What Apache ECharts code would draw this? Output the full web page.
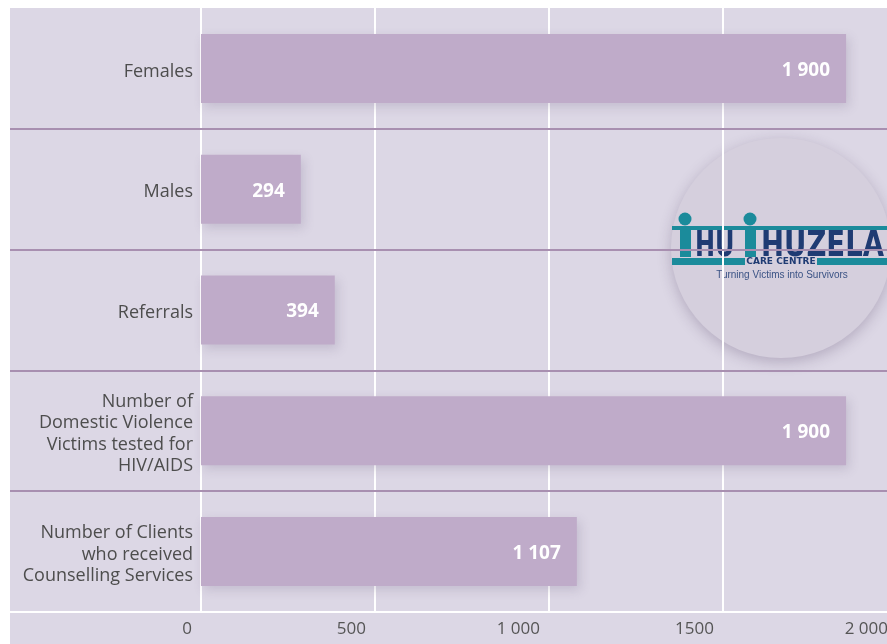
<!DOCTYPE html>
<html>
<head>
<meta charset="utf-8">
<script src="https://cdn.jsdelivr.net/npm/echarts@6/dist/echarts.min.js"></script>
<style>
  html, body { margin: 0; padding: 0; background: #fff; overflow: hidden; }
  /* a bit wider than the window: the 2 000 gridline sits just past the right edge */
  #chart { width: 897px; height: 644px; }
</style>
</head>
<body>
<div id="chart"></div>
<script>
// categories, top to bottom
const categories = [
  'Females',
  'Males',
  'Referrals',
  'Number of\nDomestic Violence\nVictims tested for\nHIV/AIDS',
  'Number of Clients\nwho received\nCounselling Services'
]
const values = [1900, 294, 394, 1900, 1107]
const tickValues = [0, 500, 1000, 1500, 2000]
const tickLabels = ['0', '500', '1 000', '1500', '2 000']

const chart = echarts.init(document.getElementById('chart'))

// thousands with a space, like the source
function fmt(v) {
  return String(v).replace(/\B(?=(\d{3})+(?!\d))/g, ' ')
}

const textFont = "'Open Sans', 'Noto Sans', sans-serif"
const logoFont = "bold 36px 'DejaVu Sans Condensed', 'DejaVu Sans', sans-serif"
const navy = '#1f3b73'
const teal = '#1b8b9b'

const option = {
  backgroundColor: '#dcd7e5',
  animation: false,
  grid: [
    // full-width grid, only used for the row separators and bottom line
    { left: 10, right: 10, top: 8, bottom: 32 },
    // plotting grid
    { left: 201, right: 0, top: 8, bottom: 32 },
    // category labels sit a little low in the source
    { left: 201, right: 0, top: 11, bottom: 29 }
  ],
  xAxis: [
    {
      gridIndex: 0,
      type: 'value',
      min: 0,
      max: 1,
      axisLine: { show: true, lineStyle: { color: '#ffffff', width: 2 } },
      axisTick: { show: false },
      axisLabel: { show: false },
      splitLine: { show: false }
    },
    {
      gridIndex: 1,
      type: 'value',
      min: tickValues[0],
      max: tickValues[tickValues.length - 1],
      interval: 500,
      axisLine: { show: false },
      axisTick: { show: false },
      splitLine: { show: true, lineStyle: { color: '#ffffff', width: 2 } },
      axisLabel: {
        color: '#555555',
        fontFamily: textFont,
        fontSize: 17,
        align: 'right',
        padding: [0, 9, 0, 0],
        margin: 9,
        formatter: function(v) {
          const i = tickValues.indexOf(v)
          return i >= 0 ? tickLabels[i] : ''
        }
      }
    },
    {
      // hidden scale for the bars (the source draws bars a bit short of the axis)
      gridIndex: 1,
      type: 'value',
      show: false,
      min: 0,
      max: 2050
    },
    {
      gridIndex: 2,
      type: 'value',
      show: false
    }
  ],
  yAxis: [
    {
      gridIndex: 0,
      type: 'category',
      inverse: true,
      data: categories,
      z: 1,
      axisLine: { show: false },
      axisTick: { show: false },
      axisLabel: { show: false },
      splitLine: {
        show: true,
        showMinLine: false,
        showMaxLine: false,
        lineStyle: { color: '#a88fb0', width: 2 }
      }
    },
    {
      gridIndex: 1,
      type: 'category',
      inverse: true,
      data: categories,
      axisLine: { show: false },
      axisTick: { show: false },
      axisLabel: { show: false },
      splitLine: { show: false }
    },
    {
      gridIndex: 2,
      type: 'category',
      inverse: true,
      data: categories,
      axisLine: { show: false },
      axisTick: { show: false },
      splitLine: { show: false },
      axisLabel: {
        color: '#4d4d4d',
        fontFamily: textFont,
        fontSize: 18,
        lineHeight: 21.5,
        align: 'right',
        margin: 8
      }
    }
  ],
  series: [
    {
      type: 'bar',
      xAxisIndex: 2,
      yAxisIndex: 1,
      data: values,
      barWidth: 69,
      z: 3,
      itemStyle: {
        color: '#bfabc9',
        shadowBlur: 10,
        shadowColor: 'rgba(90, 70, 110, 0.18)',
        shadowOffsetX: 3,
        shadowOffsetY: 4
      },
      label: {
        show: true,
        position: 'insideRight',
        distance: 16,
        offset: [0, 2],
        color: '#ffffff',
        fontFamily: textFont,
        fontWeight: 'bold',
        fontSize: 19,
        formatter: function(p) {
          return fmt(p.value)
        }
      }
    }
  ],
  graphic: [
    // white page margin
    { type: 'rect', shape: { x: 0, y: 0, width: 897, height: 8 }, style: { fill: '#ffffff' }, z: 20 },
    { type: 'rect', shape: { x: 0, y: 0, width: 10, height: 644 }, style: { fill: '#ffffff' }, z: 20 },
    // logo badge
    {
      type: 'group',
      z: 10,
      children: [
        {
          type: 'circle',
          shape: { cx: 781, cy: 248, r: 110 },
          style: {
            fill: '#d5cfdd',
            shadowBlur: 14,
            shadowColor: 'rgba(60, 40, 80, 0.25)',
            shadowOffsetY: 4
          }
        },
        { type: 'rect', shape: { x: 672, y: 226, width: 230, height: 4 }, style: { fill: teal } },
        { type: 'circle', shape: { cx: 685, cy: 219, r: 6.5 }, style: { fill: teal } },
        { type: 'circle', shape: { cx: 750, cy: 219, r: 6.5 }, style: { fill: teal } },
        { type: 'rect', shape: { x: 680, y: 228, width: 11, height: 29 }, style: { fill: teal } },
        { type: 'rect', shape: { x: 745, y: 228, width: 11, height: 29 }, style: { fill: teal } },
        {
          type: 'text',
          x: 695,
          y: 265,
          scaleX: 0.74,
          style: {
            text: 'HU',
            fill: navy,
            font: logoFont,
            textVerticalAlign: 'bottom'
          }
        },
        {
          type: 'text',
          x: 761,
          y: 265,
          scaleX: 0.85,
          style: {
            text: 'HUZELA',
            fill: navy,
            font: logoFont,
            textVerticalAlign: 'bottom'
          }
        },
        { type: 'rect', shape: { x: 672, y: 258, width: 73, height: 7 }, style: { fill: teal } },
        { type: 'rect', shape: { x: 817, y: 258, width: 85, height: 7 }, style: { fill: teal } },
        {
          type: 'text',
          x: 781,
          y: 262,
          style: {
            text: 'CARE CENTRE',
            fill: navy,
            font: "bold 9px 'DejaVu Sans', sans-serif",
            textAlign: 'center',
            textVerticalAlign: 'middle'
          }
        },
        {
          type: 'text',
          x: 782,
          y: 275,
          style: {
            text: 'Turning Victims into Survivors',
            fill: '#3b5385',
            font: "10px 'Liberation Sans', Arial, sans-serif",
            textAlign: 'center',
            textVerticalAlign: 'middle'
          }
        }
      ]
    }
  ]
}

chart.setOption(option)
</script>
</body>
</html>
